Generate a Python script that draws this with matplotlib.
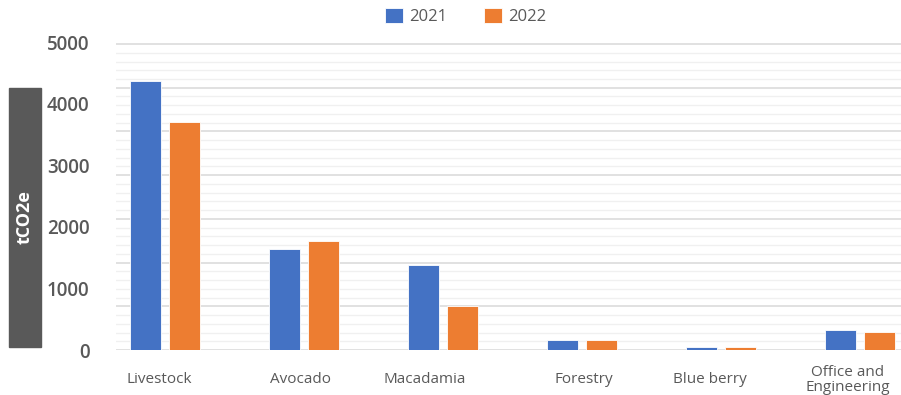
"""Emissions by business unit, 2021 vs 2022."""

import matplotlib

matplotlib.use("Agg")
import matplotlib.pyplot as plt
import matplotlib.transforms as mtransforms
import numpy as np
from matplotlib.patches import Rectangle
from matplotlib.ticker import AutoMinorLocator, MultipleLocator

categories = ["Livestock", "Avocado", "Macadamia", "Forestry", "Blue berry", "Office and\nEngineering"]
years = ["2021", "2022"]
values_2021 = [4370, 1635, 1375, 157, 49, 325]
values_2022 = [3705, 1765, 720, 155, 44, 287]
y_ticks = [0, 1000, 2000, 3000, 4000, 5000]

BLUE = "#4472C4"
ORANGE = "#ED7D31"
TEXT = "#595959"

plt.rcParams["font.family"] = ["Open Sans", "DejaVu Sans"]

fig = plt.figure(figsize=(9.01, 3.95), dpi=100)
ax = fig.add_axes([116 / 901, 1 - 350 / 395, 1 - 116 / 901, 311 / 395])

# separate axis only for the background grid (it does not line up with the labels)
grid_ax = ax.twinx()
grid_ax.set_ylim(0, 311 / 43.71)
grid_ax.yaxis.set_major_locator(MultipleLocator(1))
grid_ax.yaxis.set_minor_locator(AutoMinorLocator(5))
grid_ax.grid(which="major", axis="y", color="#d9d9d9", linewidth=1.1)
grid_ax.grid(which="minor", axis="y", color="#f0f0f0", linewidth=1.0)
grid_ax.tick_params(which="both", right=False, labelright=False)
for spine in grid_ax.spines.values():
    spine.set_visible(False)
ax.set_zorder(grid_ax.get_zorder() + 1)
ax.patch.set_visible(False)

x = np.arange(len(categories))
width = 0.225
offset = 0.14
ax.bar(x - offset, values_2021, width, color=BLUE, edgecolor="white", linewidth=0.6, label=years[0])
ax.bar(x + offset, values_2022, width, color=ORANGE, edgecolor="white", linewidth=0.6, label=years[1])

ax.set_xlim(-49 / 139, (901 - 165) / 139)
ax.set_ylim(0, 311 / 0.0616)
ax.set_yticks(y_ticks)
ax.set_yticklabels([str(v) for v in y_ticks], fontsize=13.5, color=TEXT, fontweight="semibold")
ax.set_xticks(x)
ax.set_xticklabels(categories, fontsize=11, color=TEXT, va="center", linespacing=0.95)
ax.tick_params(axis="y", length=0, pad=19)
ax.tick_params(axis="x", length=0, pad=21.5)
for spine in ax.spines.values():
    spine.set_visible(False)

# category labels in the source sit a little off the bar group centres
label_shift_px = [-6, -4, -18, 1.5, -11, -12]
for label, dx in zip(ax.get_xticklabels(), label_shift_px):
    label.set_transform(label.get_transform() + mtransforms.ScaledTranslation(dx / 100, 0, fig.dpi_scale_trans))

fig.legend(
    loc="center",
    bbox_to_anchor=(466 / 901, 1 - 16.5 / 395),
    ncol=2,
    frameon=False,
    fontsize=12,
    labelcolor=TEXT,
    handlelength=1.05,
    handleheight=1.05,
    handletextpad=0.4,
    columnspacing=2.2,
)

fig.patches.append(
    Rectangle((9 / 901, 1 - 347 / 395), 32 / 901, 259 / 395, transform=fig.transFigure, color="#595959", zorder=0)
)
fig.text(25 / 901, 1 - 217.5 / 395, "tCO2e", rotation=90, color="white", fontsize=13,
         fontweight="bold", ha="center", va="center")

fig.savefig("out.png", dpi=100)
plt.close(fig)
